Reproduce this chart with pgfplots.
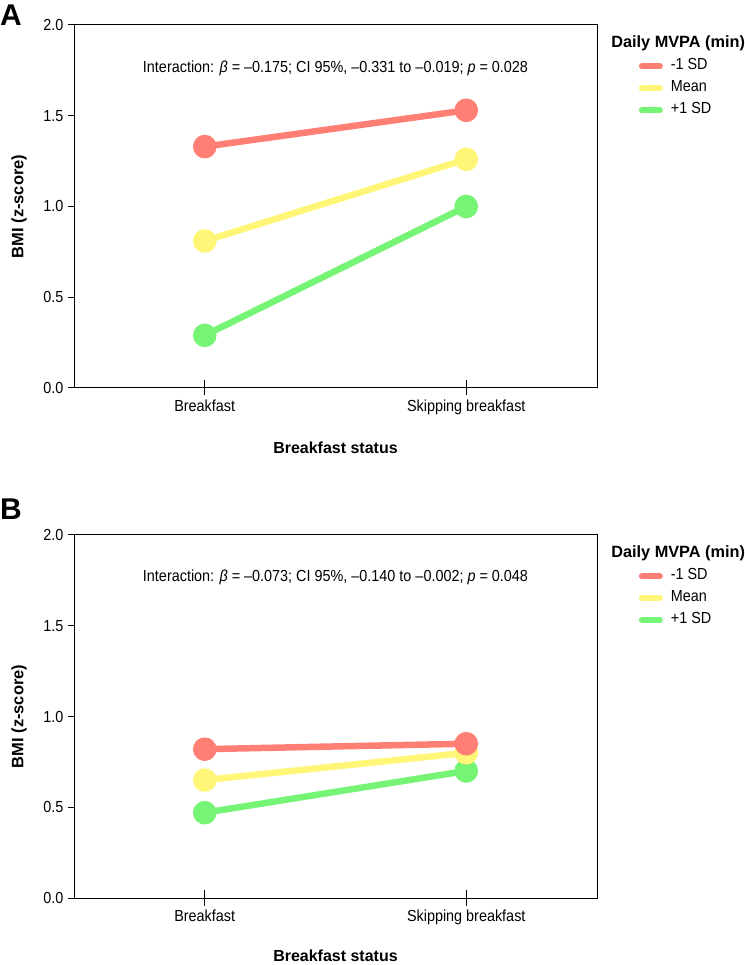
\documentclass[border=0pt]{standalone}
\usepackage{pgfplots}
\pgfplotsset{compat=1.18}
\usepackage{fontspec}
\setmainfont{Liberation Sans}
\newfontfamily\narrowfont{Liberation Sans}[FakeStretch=0.9]
\definecolor{cred}{RGB}{255,127,117}
\definecolor{cyel}{RGB}{255,245,118}
\definecolor{cgrn}{RGB}{118,244,118}
\newcommand{\nf}{\narrowfont\fontsize{16bp}{18bp}\selectfont}
\newcommand{\bfs}{\bfseries\fontsize{16bp}{18bp}\selectfont}
\pgfplotsset{
  panel/.style={
    scale only axis, width=523bp, height=363bp,
    anchor=south west, clip=false,
    xmin=-0.5, xmax=1.5, ymin=0, ymax=2,
    xtick={0,1}, xticklabels={Breakfast,Skipping breakfast},
    ytick={0,0.5,1,1.5,2},
    yticklabel style={xshift=-1bp, /pgf/number format/fixed, /pgf/number format/fixed zerofill, /pgf/number format/precision=1},
    /pgf/number format/assume math mode=true,
    tick pos=left,
    xtick align=center, ytick align=outside,
    major tick length=6bp,
    xtick style={/pgfplots/major tick length=15bp},
    axis line style={line width=1bp},
    every tick/.style={line width=1bp, black},
    ticklabel style={font=\nf},
    xticklabel style={yshift=-5bp},
    label style={font=\bfs},
    xlabel={Breakfast status},
    ylabel={BMI (z-score)},
    xlabel style={at={(axis description cs:0.5,-0.165)}, anchor=center},
    ylabel style={at={(axis description cs:-0.105,0.5)}, anchor=center, font=\bfseries\fontsize{16.5bp}{18bp}\selectfont},
    reverse legend,
    legend style={at={(axis description cs:1.080,0.9036)}, anchor=north west, draw=none, fill=none,
      inner sep=0pt, outer sep=0pt,
      font=\nf,
      nodes={inner sep=0pt, outer sep=0pt, text height=10bp, text depth=3bp},
      row sep=9bp, column sep=8bp},
    legend cell align=left,
    legend image code/.code={\draw[line width=6bp, line cap=round] (3bp,0bp) -- (21bp,0bp);},
    every axis plot/.append style={line width=6.5bp, mark=*, mark size=8.5bp},
  }
}
\begin{document}
\begin{tikzpicture}
\useasboundingbox (0,0) rectangle (745bp,965bp);
% Panel A
\begin{axis}[panel, at={(74bp,577bp)}]
\addplot[cgrn, mark options={fill=cgrn, draw=cgrn}] coordinates {(0,0.29) (1,1.00)};
\addlegendentry{+1 SD}
\addplot[cyel, mark options={fill=cyel, draw=cyel}] coordinates {(0,0.81) (1,1.26)};
\addlegendentry{Mean}
\addplot[cred, mark options={fill=cred, draw=cred}] coordinates {(0,1.33) (1,1.53)};
\addlegendentry{-1 SD}
\node[font=\nf] at (axis description cs:0.5,0.880)
  {Interaction: \textit{β} = –0.175; CI 95\%, –0.331 to –0.019; \textit{p} = 0.028};
\node[anchor=west, inner sep=0pt, font=\bfseries\fontsize{16.3bp}{18bp}\selectfont] at (axis description cs:1.027,0.950) {Daily MVPA (min)};
\end{axis}
% Panel B
\begin{axis}[panel, at={(74bp,67bp)}, xlabel style={at={(axis description cs:0.5,-0.158)}}]
\addplot[cgrn, mark options={fill=cgrn, draw=cgrn}] coordinates {(0,0.47) (1,0.70)};
\addlegendentry{+1 SD}
\addplot[cyel, mark options={fill=cyel, draw=cyel}] coordinates {(0,0.65) (1,0.80)};
\addlegendentry{Mean}
\addplot[cred, mark options={fill=cred, draw=cred}] coordinates {(0,0.82) (1,0.85)};
\addlegendentry{-1 SD}
\node[font=\nf] at (axis description cs:0.5,0.882)
  {Interaction: \textit{β} = –0.073; CI 95\%, –0.140 to –0.002; \textit{p} = 0.048};
\node[anchor=west, inner sep=0pt, font=\bfseries\fontsize{16.3bp}{18bp}\selectfont] at (axis description cs:1.027,0.950) {Daily MVPA (min)};
\end{axis}
\node[font=\bfseries\fontsize{30bp}{32bp}\selectfont] at (11bp,950bp) {A};
\node[font=\bfseries\fontsize{30bp}{32bp}\selectfont] at (11bp,456bp) {B};
\end{tikzpicture}
\end{document}
